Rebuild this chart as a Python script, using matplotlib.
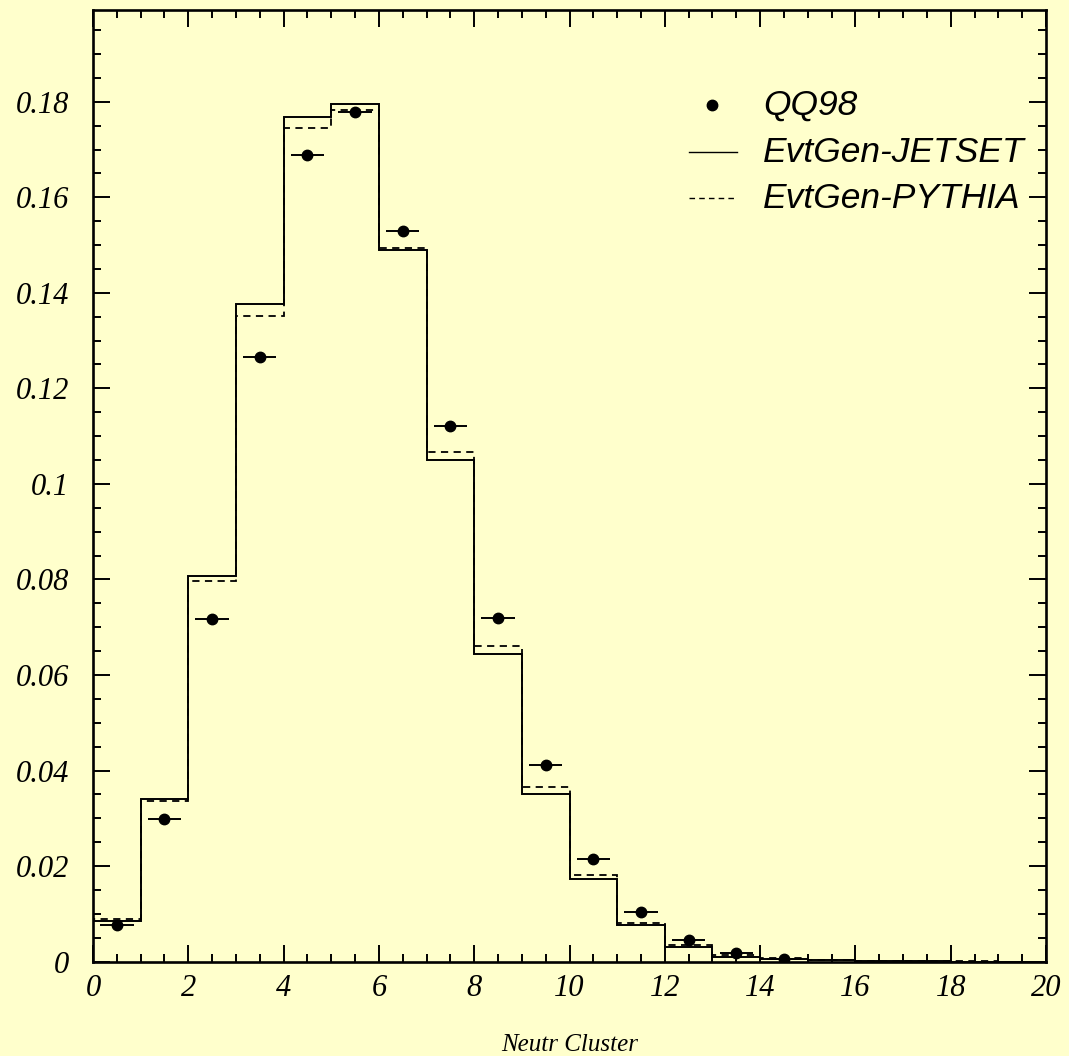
import numpy as np
import matplotlib
matplotlib.use("Agg")
import matplotlib.pyplot as plt
from matplotlib.lines import Line2D

# ---- data ----
bin_edges = list(range(0, 21))
jetset = [0.0086, 0.0340, 0.0807, 0.1376, 0.1769, 0.1795, 0.1490, 0.1050, 0.0643,
          0.0350, 0.0173, 0.0076, 0.0031, 0.00105, 0.0006, 0.00035, 0.00015, 0.00008,
          0.00004, 0.00002]
pythia = [0.0089, 0.0337, 0.0796, 0.1352, 0.1744, 0.1782, 0.1494, 0.1067, 0.0661,
          0.0366, 0.0182, 0.0082, 0.0036, 0.0014, 0.0007, 0.0004, 0.00018, 0.0001,
          0.00005, 0.00002]
qq98_x = [0.5, 1.5, 2.5, 3.5, 4.5, 5.5, 6.5, 7.5, 8.5, 9.5, 10.5, 11.5, 12.5, 13.5, 14.5]
qq98_y = [0.0077, 0.0298, 0.0717, 0.1265, 0.1688, 0.1778, 0.1529, 0.1121, 0.0719,
          0.0412, 0.0214, 0.0103, 0.0045, 0.0018, 0.0006]
xtick_vals = list(range(0, 21, 2))
ytick_vals = [0, 0.02, 0.04, 0.06, 0.08, 0.1, 0.12, 0.14, 0.16, 0.18]
ytick_labels = ["0", "0.02", "0.04", "0.06", "0.08", "0.1", "0.12", "0.14", "0.16", "0.18"]
legend_labels = ["QQ98", "EvtGen-JETSET", "EvtGen-PYTHIA"]

bg = "#ffffcc"
W, H = 1069, 1056
fig = plt.figure(figsize=(W / 100, H / 100), dpi=100, facecolor=bg)
ax = fig.add_axes([93 / W, 1 - 961.7 / H, (1046 - 93) / W, (961.7 - 10) / H])
ax.set_facecolor(bg)

ax.stairs(jetset, bin_edges, color="black", lw=1.4)
ax.stairs(pythia, bin_edges, color="black", lw=1.3, linestyle=(0, (4, 3)))
ax.errorbar(qq98_x, qq98_y, xerr=0.35, fmt="o", color="black", ms=7.5, elinewidth=1.4,
            capsize=0)

ax.set_xlim(0, 20)
ax.set_ylim(0, 0.1992)

serif = {"family": "Liberation Serif", "style": "italic", "size": 22}
ax.set_xticks(xtick_vals)
ax.set_xticklabels([str(v) for v in xtick_vals], fontdict=serif)
ax.set_yticks(ytick_vals)
ax.set_yticklabels(ytick_labels, fontdict=serif)
ax.set_xticks(np.arange(0, 20.01, 0.5), minor=True)
ax.set_yticks(np.arange(0, 0.1992, 0.005), minor=True)
ax.tick_params(which="both", direction="in", top=True, right=True, colors="black",
               width=1.4)
ax.tick_params(which="major", length=12)
ax.tick_params(which="minor", length=6)
ax.tick_params(axis="x", pad=9)
ax.tick_params(axis="y", pad=17)
for s in ax.spines.values():
    s.set_linewidth(1.9)

ax.set_xlabel("Neutr Cluster", family="Liberation Serif", style="italic", size=18,
              labelpad=22)

# legend (manual)
sans = {"family": "Liberation Sans", "style": "italic", "size": 25.5}
rows_y = [105, 152, 198]
tx = (763 - 93) / (1046 - 93)
def ay(py):
    return (961.7 - py) / (961.7 - 10)
def axx(px):
    return (px - 93) / (1046 - 93)
ax.add_line(Line2D([axx(712)], [ay(rows_y[0])], marker="o", ms=7.5, color="black",
                   transform=ax.transAxes))
ax.add_line(Line2D([axx(689), axx(737)], [ay(rows_y[1])] * 2, color="black", lw=1.0,
                   transform=ax.transAxes))
ax.add_line(Line2D([axx(689), axx(737)], [ay(rows_y[2])] * 2, color="black", lw=1.0,
                   linestyle=(0, (4, 3)), transform=ax.transAxes))
for lab, py in zip(legend_labels, rows_y):
    ax.text(tx, ay(py), lab, transform=ax.transAxes, va="center", ha="left", **sans)

fig.savefig("out.png", dpi=100, facecolor=bg)
